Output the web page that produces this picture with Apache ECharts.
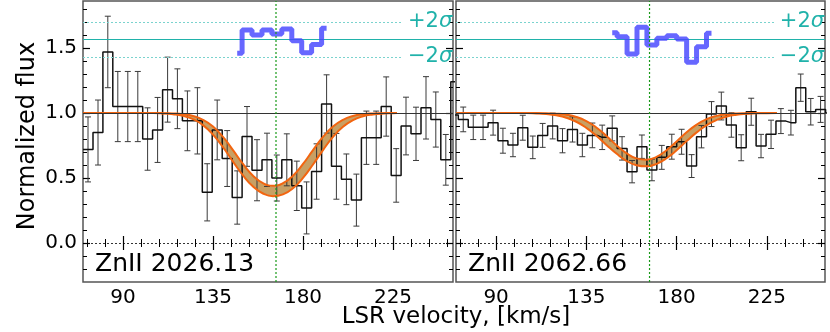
<!DOCTYPE html>
<html><head><meta charset="utf-8">
<script src="https://cdn.jsdelivr.net/npm/echarts@6/dist/echarts.min.js"></script>
<style>html,body{margin:0;padding:0;background:#fff}#c{width:830px;height:332px}</style>
</head><body><div id="c"></div>
<script>
// ---------------- data ----------------
const panelLabels = ['ZnII 2026.13', 'ZnII 2062.66'];

// Panel A: ZnII 2026.13
const velA  = [72.5,77.5,82.4,87.4,92.4,97.4,102.3,107.3,112.3,117.2,122.2,127.2,132.1,137.1,142.1,147.1,152.0,157.0,162.0,166.9,171.9,176.9,181.8,186.8,191.8,196.7,201.7,206.7,211.7,216.6,221.6,226.6,231.5,236.5,241.5,246.4,251.4,256.4];
const fluxA = [0.72,0.85,1.47,1.05,1.05,1.05,0.80,0.87,1.18,1.11,0.94,0.94,0.39,0.87,0.65,0.35,0.82,0.56,0.64,0.50,0.64,0.44,0.27,0.55,1.07,0.59,0.49,0.33,0.81,0.81,1.05,0.52,0.90,0.84,1.04,0.95,0.64,1.24];
const errA  = [0.25,0.25,0.275,0.27,0.27,0.27,0.24,0.25,0.25,0.23,0.23,0.255,0.22,0.23,0.215,0.205,0.23,0.235,0.205,0.177,0.20,0.19,0.20,0.213,0.224,0.253,0.195,0.20,0.205,0.205,0.228,0.206,0.222,0.205,0.24,0.212,0.195,0.20];

// Panel B: ZnII 2062.66
const velB  = [68.7,73.6,78.6,83.5,88.5,93.4,98.4,103.3,108.3,113.2,118.2,123.1,128.1,133.0,138.0,142.9,147.9,152.8,157.8,162.7,167.7,172.6,177.6,182.5,187.5,192.4,197.4,202.3,207.3,212.2,217.2,222.1,227.1,232.0,237.0,241.9,246.9,251.8,256.8];
const fluxB = [0.985,0.951,0.89,0.89,0.926,0.787,0.754,0.887,0.736,0.828,0.90,0.787,0.874,0.754,0.828,0.813,0.882,0.728,0.549,0.741,0.562,0.659,0.741,0.779,0.592,0.818,0.992,1.054,0.908,0.733,1.01,0.746,0.836,0.938,0.926,1.195,1.01,1.028,1.0];
const errB  = [0.095,0.095,0.094,0.094,0.096,0.096,0.09,0.096,0.087,0.092,0.099,0.093,0.097,0.09,0.095,0.094,0.096,0.09,0.086,0.09,0.083,0.092,0.096,0.096,0.088,0.086,0.096,0.107,0.094,0.10,0.104,0.09,0.109,0.096,0.095,0.105,0.102,0.10,0.10];

// model band (upper / lower edges)
const modelVelA = [70,75,80,85,90,95,100,105,110,115,120,125,130,135,140,145,150,155,160,165,170,175,180,185,190,195,200,205,210,215,220,225,227];
const modelUpA  = [1,1,1,1,1,1,1,1,0.999,0.997,0.991,0.977,0.948,0.896,0.816,0.715,0.608,0.518,0.460,0.440,0.460,0.518,0.608,0.715,0.816,0.896,0.948,0.977,0.991,0.997,0.999,1,1];
const modelLoA  = [1,1,1,1,1,1,1,1,0.997,0.991,0.978,0.953,0.907,0.834,0.737,0.626,0.520,0.435,0.381,0.360,0.374,0.421,0.501,0.604,0.715,0.817,0.894,0.945,0.975,0.989,0.996,0.999,1];
const modelVelB = [70,75,80,85,90,95,100,105,110,115,120,125,130,135,140,145,150,155,160,165,170,175,180,185,190,195,200,205,210,215,220,225,230];
const modelUpB  = [1,1,1,1,1,1,1,1,1,0.998,0.995,0.987,0.970,0.938,0.889,0.824,0.753,0.691,0.651,0.641,0.663,0.714,0.781,0.852,0.911,0.953,0.978,0.991,0.997,0.999,1,1,1];
const modelLoB  = [1,1,1,1,1,1,1,1,0.997,0.992,0.982,0.964,0.933,0.886,0.825,0.755,0.688,0.632,0.599,0.590,0.609,0.652,0.714,0.784,0.851,0.907,0.947,0.973,0.987,0.994,0.998,0.999,1];

// residuals (in sigma units)
const residVelA = [147.1,152.0,157.0,162.0,166.9,171.9,176.9,181.8,186.8,191.8];
const residA    = [-1.6,1.06,0.5,1.06,0.6,1.18,-0.16,-1.54,-0.58,1.27];
const residVelB = [147.9,152.8,157.8,162.7,167.7,172.6,177.6,182.5,187.5,192.4,197.4];
const residB    = [0.76,0.3,-1.69,1.38,-0.66,0.12,0.42,0.03,-2.64,-0.85,0.69];

const residCenter = 1.567, residSigma = 0.067;
const sigmaLineEnd = [230, 229];
const lineCenterVel = 166.5;
const continuumLevel = 1.0, zeroLevel = 0.0;

// ticks
const xMajorTicks = [90,135,180,225];
const xMinorTicks = [72,81,99,108,117,126,144,153,162,171,189,198,207,216,234,243,252];
const yMajorTicks = [0,0.5,1.0,1.5];
const yMinorTicks = [-0.2,-0.1,0.1,0.2,0.3,0.4,0.6,0.7,0.8,0.9,1.1,1.2,1.3,1.4,1.6,1.7,1.8];
const xRanges = [[70,255],[70,254]];
const yRange = [-0.3, 1.862];

// ---------------- chart ----------------
const FONT = 'DejaVu Sans';
const TEAL = '#20b2aa';
const TEAL_LIGHT = '#7ad3ce';
const GREEN = '#1a9a1a';
const pairs = (xs, ys) => xs.map((x,i)=>[x, ys[i]]);
function histData(v, f){
  const n = v.length;
  const h0 = (v[1]-v[0])/2, h1 = (v[n-1]-v[n-2])/2;
  return [[v[0]-h0, f[0]], ...pairs(v,f), [v[n-1]+h1, f[n-1]]];
}

const panels = [
  {vel:velA, flux:fluxA, err:errA, mv:modelVelA, up:modelUpA, lo:modelLoA, rv:residVelA, r:residA},
  {vel:velB, flux:fluxB, err:errB, mv:modelVelB, up:modelUpB, lo:modelLoB, rv:residVelB, r:residB}
];
const grids = [
  {left:83, right:377, top:1, bottom:50},
  {left:456, right:5, top:1, bottom:50}
];

const xAxis = [], yAxis = [], series = [];
const tickLine = w => ({color:'#000', width:w});
const sigmaLabel = txt => ({show:true, position:'end', distance:5, formatter:txt, color:TEAL, fontSize:21, fontFamily:FONT,
  rich:{s:{fontStyle:'italic', color:TEAL, fontSize:21, fontFamily:FONT}}});

panels.forEach((p, gi) => {
  const xb = {type:'value', gridIndex:gi, min:xRanges[gi][0], max:xRanges[gi][1], splitLine:{show:false}, axisLine:{show:false}};
  xAxis.push(
    {...xb, position:'bottom', axisTick:{inside:true, length:7, customValues:xMajorTicks, lineStyle:tickLine(1.2)},
      axisLabel:{customValues:xMajorTicks, fontSize:20, fontFamily:FONT, color:'#000', margin:6}},
    {...xb, position:'bottom', axisTick:{inside:true, length:4, customValues:xMinorTicks, lineStyle:tickLine(1)}, axisLabel:{show:false}},
    {...xb, position:'top', axisTick:{inside:true, length:7, customValues:xMajorTicks, lineStyle:tickLine(1.2)}, axisLabel:{show:false}},
    {...xb, position:'top', axisTick:{inside:true, length:4, customValues:xMinorTicks, lineStyle:tickLine(1)}, axisLabel:{show:false}}
  );
  const yb = {type:'value', gridIndex:gi, min:yRange[0], max:yRange[1], splitLine:{show:false}, axisLine:{show:false}};
  yAxis.push(
    {...yb, position:'left', axisTick:{inside:true, length:7, customValues:yMajorTicks, lineStyle:tickLine(1.2)},
      axisLabel: gi === 0 ? {customValues:yMajorTicks, fontSize:20, fontFamily:FONT, color:'#000', margin:6,
        formatter: v => v.toFixed(1)} : {show:false}},
    {...yb, position:'left', axisTick:{inside:true, length:4, customValues:yMinorTicks, lineStyle:tickLine(1)}, axisLabel:{show:false}},
    {...yb, position:'right', axisTick:{inside:true, length:7, customValues:yMajorTicks, lineStyle:tickLine(1.2)}, axisLabel:{show:false}},
    {...yb, position:'right', axisTick:{inside:true, length:4, customValues:yMinorTicks, lineStyle:tickLine(1)}, axisLabel:{show:false}}
  );
  const ax = {xAxisIndex: gi*4, yAxisIndex: gi*4};
  const x0 = xRanges[gi][0];

  // band fill (polygon between edges) - below data
  series.push({
    ...ax, type:'custom', z:1, clip:true,
    data: p.mv.map((v,i)=>[v, p.lo[i], p.up[i]]),
    encode:{x:0, y:[1,2]},
    renderItem(params, api){
      if (params.dataIndex !== 0) return null;
      const top = p.mv.map((v,i)=>api.coord([v, p.up[i]]));
      const bot = p.mv.map((v,i)=>api.coord([v, p.lo[i]])).reverse();
      return {type:'polygon', shape:{points: top.concat(bot)}, style:{fill:'#c8a064', stroke:null}};
    }
  });
  // histogram + reference lines
  series.push({
    ...ax, type:'line', step:'middle', data: histData(p.vel, p.flux), symbol:'none', z:2,
    lineStyle:{color:'#111', width:1.5}, clip:true,
    markLine:{silent:true, symbol:'none', animation:false, label:{show:false},
      data:[
        {yAxis:continuumLevel, lineStyle:{color:'#333', type:'solid', width:1.2}},
        {yAxis:zeroLevel, lineStyle:{color:'#000', type:[2,2], width:0.8}}
      ]}
  });
  // error bars
  series.push({
    ...ax, type:'custom', z:2, clip:true,
    data: p.vel.map((v,i)=>[v, p.flux[i]-p.err[i], p.flux[i]+p.err[i]]),
    encode:{x:0, y:[1,2]},
    renderItem(params, api){
      const lo = api.coord([api.value(0), api.value(1)]);
      const hi = api.coord([api.value(0), api.value(2)]);
      const cw = 3;
      const style = {stroke:'#3a3a3a', lineWidth:1};
      return {type:'group', children:[
        {type:'line', shape:{x1:lo[0], y1:lo[1], x2:hi[0], y2:hi[1]}, style},
        {type:'line', shape:{x1:lo[0]-cw, y1:lo[1], x2:lo[0]+cw, y2:lo[1]}, style},
        {type:'line', shape:{x1:hi[0]-cw, y1:hi[1], x2:hi[0]+cw, y2:hi[1]}, style}
      ]};
    }
  });
  // band edges
  [p.up, p.lo].forEach(arr => series.push({
    ...ax, type:'line', smooth:true, symbol:'none', z:4,
    data: pairs(p.mv, arr), lineStyle:{color:'#f26510', width:2}
  }));
  // line-centre marker (vertical dotted green)
  series.push({
    ...ax, type:'line', symbol:'none', z:6, silent:true,
    data: [[lineCenterVel, yRange[0]], [lineCenterVel, yRange[1]]],
    lineStyle:{color:GREEN, type:[2,2], width:1.2}
  });
  // residuals + sigma lines
  series.push({
    ...ax, type:'line', step:'middle', symbol:'none', z:5,
    data: pairs(p.rv, p.r.map(r => residCenter + residSigma*r)),
    lineStyle:{color:'rgba(70,70,255,0.82)', width:5},
    markLine:{silent:true, symbol:'none', animation:false, label:{show:false},
      data:[
        {yAxis:residCenter, lineStyle:{color:TEAL, type:'solid', width:1}},
        [{coord:[x0, residCenter+2*residSigma], lineStyle:{color:TEAL_LIGHT, type:[2,2], width:1}, label:sigmaLabel('+2{s|σ}')},
         {coord:[sigmaLineEnd[gi], residCenter+2*residSigma]}],
        [{coord:[x0, residCenter-2*residSigma], lineStyle:{color:TEAL_LIGHT, type:[2,2], width:1}, label:sigmaLabel('\u22122{s|σ}')},
         {coord:[sigmaLineEnd[gi], residCenter-2*residSigma]}]
      ]}
  });
});

const chart = echarts.init(document.getElementById('c'), null, {renderer:'canvas'});
chart.setOption({
  animation:false,
  backgroundColor:'#fff',
  grid: grids.map(g => ({...g, show:true, borderColor:'#555', borderWidth:1.5, backgroundColor:'transparent',
    containLabel:false, outerBoundsMode:'none'})),
  xAxis, yAxis, series,
  graphic:[
    {type:'text', x:95, y:264, style:{text:panelLabels[0], font:'25px "DejaVu Sans"', fill:'#000', verticalAlign:'middle'}},
    {type:'text', x:468, y:264, style:{text:panelLabels[1], font:'25px "DejaVu Sans"', fill:'#000', verticalAlign:'middle'}},
    {type:'text', x:456, y:317, style:{text:'LSR velocity, [km/s]', font:'23px "DejaVu Sans"', fill:'#000', align:'center', verticalAlign:'middle'}},
    {type:'text', x:28, y:136, rotation:Math.PI/2, style:{text:'Normalized flux', font:'24px "DejaVu Sans"', fill:'#000', align:'center', verticalAlign:'middle'}}
  ]
});
</script></body></html>
